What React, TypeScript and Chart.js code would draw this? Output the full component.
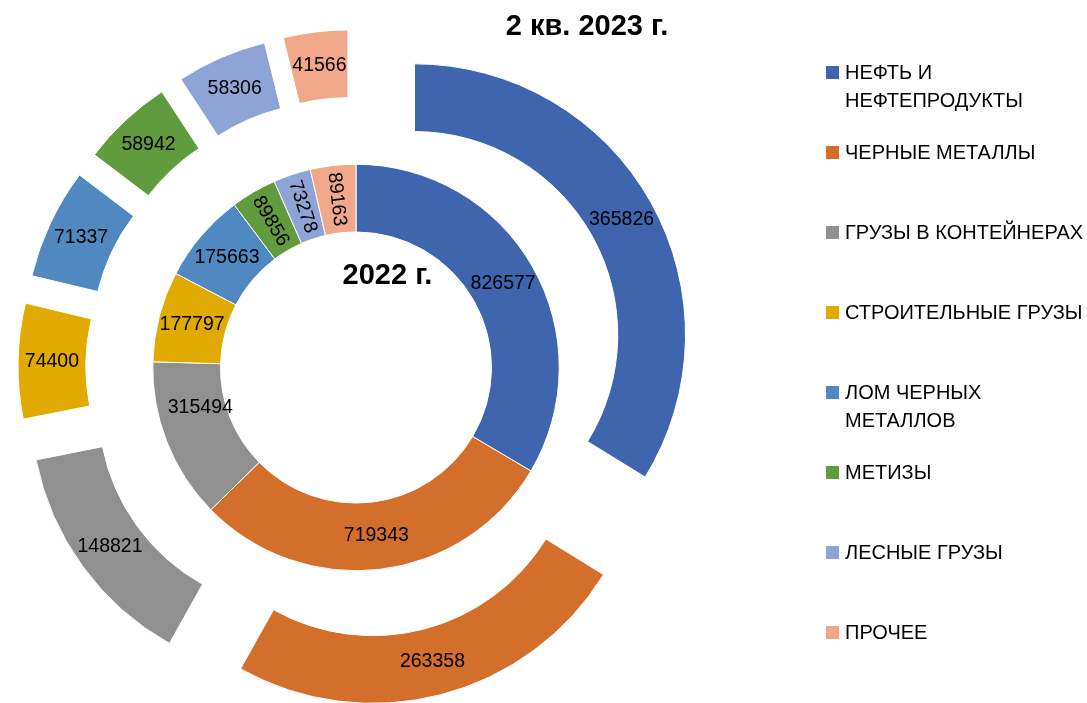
import React, { useEffect, useRef } from 'react';
import { Chart, registerables } from 'chart.js';

Chart.register(...registerables);

// ---- data ----
const categories = [
  'НЕФТЬ И\nНЕФТЕПРОДУКТЫ',
  'ЧЕРНЫЕ МЕТАЛЛЫ',
  'ГРУЗЫ В КОНТЕЙНЕРАХ',
  'СТРОИТЕЛЬНЫЕ ГРУЗЫ',
  'ЛОМ ЧЕРНЫХ\nМЕТАЛЛОВ',
  'МЕТИЗЫ',
  'ЛЕСНЫЕ ГРУЗЫ',
  'ПРОЧЕЕ',
];
const values2023q2 = [365826, 263358, 148821, 74400, 71337, 58942, 58306, 41566];
const values2022 = [826577, 719343, 315494, 177797, 175663, 89856, 73278, 89163];
const colors = ['#3E65AE', '#D36F2B', '#909090', '#E1AA00', '#4F89C0', '#609B3E', '#8FA4D6', '#F1A88A'];
const titleOuter = '2 кв. 2023 г.';
const titleInner = '2022 г.';

const FONT = "'Liberation Sans', Arial, sans-serif";
const EXPLODE = 67;
// manual label nudges (dataset index -> point index -> [dx, dy]), as in the source chart
const LABEL_NUDGE: Record<number, Record<number, [number, number]>> = {
  1: { 2: [2, -22] },
};

const ringPlugin = {
  id: 'ringPlugin',
  beforeDatasetDraw(chart: any, args: any) {
    if (args.index !== 0) return;
    const ctx = chart.ctx;
    args.meta.data.forEach((arc: any) => {
      const mid = (arc.startAngle + arc.endAngle) / 2;
      ctx.save();
      ctx.translate(Math.cos(mid) * EXPLODE, Math.sin(mid) * EXPLODE);
      arc.draw(ctx);
      ctx.restore();
    });
    return false;
  },
  afterDatasetsDraw(chart: any) {
    const ctx = chart.ctx;
    ctx.save();
    ctx.font = `19.5px ${FONT}`;
    ctx.fillStyle = '#000';
    ctx.textAlign = 'center';
    ctx.textBaseline = 'middle';
    chart.data.datasets.forEach((ds: any, di: number) => {
      const meta = chart.getDatasetMeta(di);
      const shift = di === 0 ? EXPLODE : 0;
      meta.data.forEach((arc: any, i: number) => {
        const { x, y, startAngle, endAngle, innerRadius, outerRadius } = arc.getProps(
          ['x', 'y', 'startAngle', 'endAngle', 'innerRadius', 'outerRadius'],
          true
        );
        const mid = (startAngle + endAngle) / 2;
        const rMid = (innerRadius + outerRadius) / 2;
        const r = rMid + shift;
        const nudge = (LABEL_NUDGE[di] && LABEL_NUDGE[di][i]) || [0, 0];
        const px = x + Math.cos(mid) * r + nudge[0];
        const py = y + Math.sin(mid) * r + nudge[1];
        const text = String(ds.data[i]);
        const w = ctx.measureText(text).width;
        const arcLen = (endAngle - startAngle) * rMid;
        ctx.save();
        ctx.translate(px, py);
        if (arcLen < w) ctx.rotate(mid + Math.PI);
        ctx.fillText(text, 0, 0);
        ctx.restore();
      });
    });
    ctx.font = `bold 29px ${FONT}`;
    ctx.textBaseline = 'alphabetic';
    ctx.fillText(titleOuter, 587, 35);
    ctx.fillText(titleInner, 387.5, 283.5);
    ctx.restore();
  },
};

export default function App() {
  const canvasRef = useRef<HTMLCanvasElement | null>(null);

  useEffect(() => {
    const canvas = canvasRef.current;
    if (!canvas) return;
    const common = {
      backgroundColor: colors,
      borderColor: '#ffffff',
      borderWidth: 1,
      hoverBorderWidth: 1,
      offset: 0,
      hoverOffset: 0,
    };
    const chart = new Chart(canvas, {
      type: 'doughnut',
      data: {
        labels: categories.map((c) => c.replace('\n', ' ')),
        datasets: [
          { label: titleOuter, data: values2023q2, ...common },
          { label: titleInner, data: values2022, ...common },
        ],
      },
      options: {
        responsive: false,
        animation: false,
        devicePixelRatio: 1,
        cutout: '50%',
        events: [],
        layout: { padding: { left: 84.5, right: 459.5, top: 96, bottom: 64 } },
        plugins: {
          legend: { display: false },
          title: { display: false },
          tooltip: { enabled: false },
        },
      },
      plugins: [ringPlugin],
    } as any);
    return () => chart.destroy();
  }, []);

  const slotTop = 72;
  const slotStep = 80;

  return (
    <div
      style={{
        position: 'fixed',
        left: 0,
        top: 0,
        width: 1087,
        height: 703,
        background: '#fff',
        overflow: 'hidden',
      }}
    >
      <canvas ref={canvasRef} width={1087} height={703} style={{ display: 'block' }} />
      {categories.map((c, i) => {
        const cy = slotTop + i * slotStep;
        return (
          <div key={i}>
            <div
              style={{
                position: 'absolute',
                left: 826,
                top: cy - 6.5,
                width: 13,
                height: 13,
                background: colors[i],
              }}
            />
            <div
              style={{
                position: 'absolute',
                left: 845,
                top: cy - 14,
                font: `20px ${FONT}`,
                lineHeight: '28px',
                color: '#000',
                whiteSpace: 'pre',
              }}
            >
              {c}
            </div>
          </div>
        );
      })}
    </div>
  );
}
